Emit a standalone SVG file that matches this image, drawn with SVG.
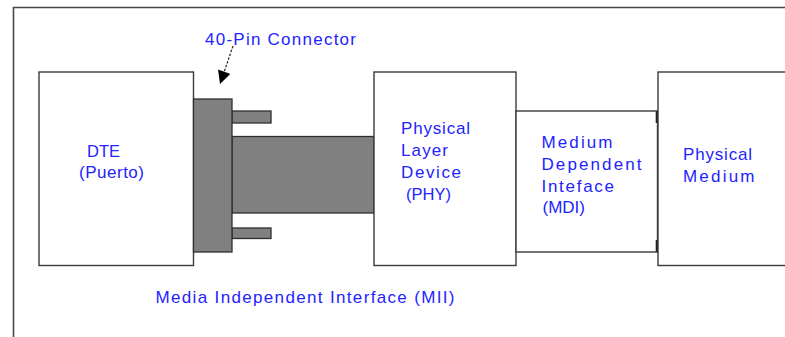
<svg xmlns="http://www.w3.org/2000/svg" width="785" height="337" viewBox="0 0 785 337">
<style>
.box{fill:#fff;stroke:#3a3a3a;stroke-width:1.4}
.gray{fill:#808080;stroke:#2e2e2e;stroke-width:1.3}
.frame{fill:none;stroke:#4a4a4a;stroke-width:1.6}
.t{font-family:"Liberation Sans",Arial,sans-serif;font-size:17px;fill:#2323ff}
.n{font-size:16.5px}
.conn{fill:none;stroke:#222;stroke-width:1.2;stroke-dasharray:2.5 1.5}
</style>
<defs>
<marker id="ah" viewBox="0 0 10 10" refX="10" refY="5" markerWidth="15" markerHeight="13" markerUnits="userSpaceOnUse" orient="auto">
<path d="M0,0 L10,5 L0,10 z" fill="#000"/>
</marker>
</defs>
<rect width="785" height="337" fill="#fff"/>
<path class="frame" d="M13.5,337 V7.5 H785"/>

<g id="dte">
<rect class="box" x="39" y="72" width="154.5" height="193.5"/>
<text class="t n" x="87" y="157">DTE</text>
<text class="t" x="79" y="178" textLength="65" lengthAdjust="spacing">(Puerto)</text>
</g>

<g id="mii-connector">
<rect class="gray" x="232" y="136.5" width="142" height="76.5"/>
<rect class="gray" x="232" y="111" width="39" height="12"/>
<rect class="gray" x="232" y="228" width="39" height="10.5"/>
<rect class="gray" x="193.5" y="99" width="38.5" height="153"/>
</g>

<g id="phy">
<rect class="box" x="374" y="72" width="142" height="193.5"/>
<text class="t" x="401" y="134" textLength="69" lengthAdjust="spacing">Physical</text>
<text class="t" x="401" y="156" textLength="47" lengthAdjust="spacing">Layer</text>
<text class="t" x="401" y="178" textLength="60" lengthAdjust="spacing">Device</text>
<text class="t n" x="406" y="200">(PHY)</text>
</g>

<g id="mdi">
<rect class="box" x="516" y="111" width="141.5" height="141"/>
<path d="M657,111 V123 M657,240 V252" stroke="#222" stroke-width="2.6"/>
<text class="t" x="541.5" y="148" textLength="71" lengthAdjust="spacing">Medium</text>
<text class="t" x="541.5" y="170" textLength="100" lengthAdjust="spacing">Dependent</text>
<text class="t" x="541.5" y="192" textLength="72.5" lengthAdjust="spacing">Inteface</text>
<text class="t" x="542.5" y="213" textLength="42.5" lengthAdjust="spacing">(MDI)</text>
</g>

<g id="medium">
<rect class="box" x="658" y="72" width="140" height="193.5"/>
<text class="t" x="683" y="160" textLength="69" lengthAdjust="spacing">Physical</text>
<text class="t" x="683" y="182" textLength="71.5" lengthAdjust="spacing">Medium</text>
</g>

<g id="labels">
<text class="t" x="205" y="44.5" textLength="151" lengthAdjust="spacing">40-Pin Connector</text>
<text class="t" x="155.5" y="303" textLength="299" lengthAdjust="spacing">Media Independent Interface (MII)</text>
</g>

<g id="connectors">
<path class="conn" d="M233,46 L220,84" marker-end="url(#ah)"/>
</g>
</svg>
